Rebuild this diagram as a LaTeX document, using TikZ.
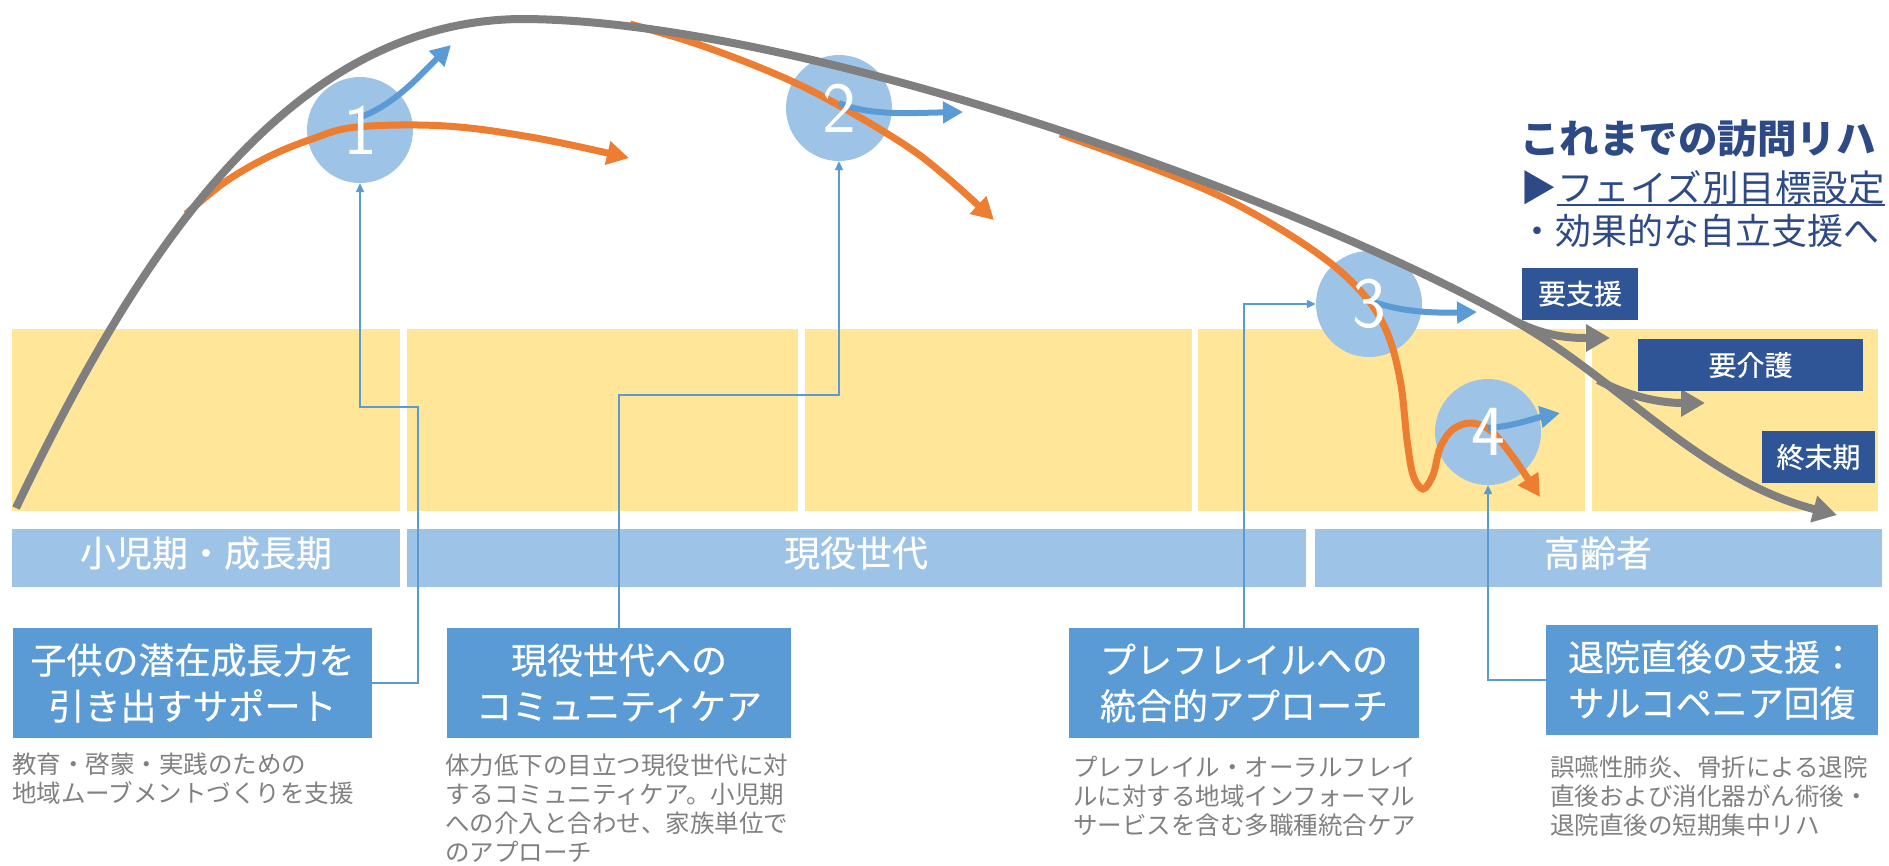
\documentclass[tikz,border=0pt]{standalone}
\usepackage{fontspec}
\setmainfont{Noto Sans CJK JP}
\newfontfamily\boxfont[FakeBold=0.5]{Noto Sans CJK JP}
\usetikzlibrary{arrows.meta}
\definecolor{cgray}{HTML}{7F7F7F}
\definecolor{corange}{HTML}{ED7D31}
\definecolor{cblue}{HTML}{5B9BD5}
\definecolor{clblue}{HTML}{9DC3E6}
\definecolor{cyellow}{HTML}{FFE699}
\definecolor{cnavy}{HTML}{2F5597}
\definecolor{ctext}{HTML}{2E4A86}
\definecolor{cdesc}{HTML}{808080}
\begin{document}
\begin{tikzpicture}[x=1pt,y=-1pt,
  bandseg/.style={fill=clblue, draw=none, inner sep=0, minimum height=58pt},
  bandlabel/.style={text=white, inner sep=0, font=\boxfont\fontsize{36}{36}\selectfont},
  circ/.style={circle, fill=clblue, minimum size=106pt, inner sep=0},
  num/.style={text=white, font=\sffamily\fontsize{72}{72}\selectfont, inner sep=0},
  bbox/.style={fill=cblue, text=white, inner sep=0, align=center, minimum height=110pt, font=\boxfont\fontsize{36}{46}\selectfont},
  nbox/.style={fill=cnavy, text=white, inner sep=0, minimum height=52pt, font=\boxfont\fontsize{28}{28}\selectfont},
  desc/.style={text=cdesc, inner sep=0, align=left, anchor=west, font=\fontsize{24.5}{29}\selectfont},
  link/.style={draw=cblue, line width=2pt, -{Triangle[length=9pt,width=8pt]}},
  graycurve/.style={draw=cgray, line width=8pt, -{Triangle[length=24pt,width=26pt]}},
  orangecurve/.style={draw=corange, line width=7pt, -{Triangle[length=22pt,width=23pt]}},
  bluecurve/.style={draw=cblue, line width=6pt, -{Triangle[length=20pt,width=21pt]}},
  ttl/.style={text=ctext, inner sep=0, anchor=west}
]
\useasboundingbox (0,0) rectangle (1889,865);

% yellow band columns
\fill[cyellow] (12,329) rectangle (400,511);
\fill[cyellow] (407,329) rectangle (798,511);
\fill[cyellow] (805,329) rectangle (1192,511);
\fill[cyellow] (1198,329) rectangle (1585,511);
\fill[cyellow] (1592,329) rectangle (1878,511);

% blue age band
\node[bandseg, minimum width=388pt] (b1) at (206,558) {};
\node[bandseg, minimum width=899pt] (b2) at (856.5,558) {};
\node[bandseg, minimum width=567pt] (b3) at (1598.5,558) {};
\node[bandlabel] (l1) at (206,553) {小児期・成長期};
\node[bandlabel] (l2) at (856,553) {現役世代};
\node[bandlabel] (l3) at (1598,553) {高齢者};

% circles
\node[circ] (c1) at (360,130) {};
\node[circ] (c2) at (839,108) {};
\node[circ] (c3) at (1369,304) {};
\node[circ] (c4) at (1488,432) {};

% bottom boxes
\node[bbox, minimum width=359pt] (k1) at (192.5,683) {子供の潜在成長力を\\引き出すサポート};
\node[bbox, minimum width=344pt] (k2) at (619,683) {現役世代への\\コミュニティケア};
\node[bbox, minimum width=350pt] (k3) at (1244,683) {プレフレイルへの\\統合的アプローチ};
\node[bbox, minimum width=332pt] (k4) at (1712,680) {退院直後の支援：\\サルコペニア回復};

% connectors
\draw[link] (k1.east) -| (418,407) -| (c1.south);
\draw[link] (k2.north) -- (k2.north |- 0,395) -| (c2.south);
\draw[link] (k3.north) |- (c3.west);
\draw[link] (k4.west) -| (c4.south);

% descriptions
\node[desc] (d1) at (12,779) {教育・啓蒙・実践のための\\地域ムーブメントづくりを支援};
\node[desc] (d2) at (445,808) {体力低下の目立つ現役世代に対\\するコミュニティケア。小児期\\への介入と合わせ、家族単位で\\のアプローチ};
\node[desc] (d3) at (1073,796) {プレフレイル・オーラルフレイ\\ルに対する地域インフォーマル\\サービスを含む多職種統合ケア};
\node[desc] (d4) at (1550,796) {誤嚥性肺炎、骨折による退院\\直後および消化器がん術後・\\退院直後の短期集中リハ};

% orange curves
\draw[orangecurve] plot[smooth, tension=0.6] coordinates {(186,214) (225,182) (268,157) (312,139) (357,127) (446,126) (536,138) (629,158)};
\draw[orangecurve] plot[smooth, tension=0.6] coordinates {(630,24) (700,45) (780,76) (840,106) (908,147) (950,180) (994,220)};
\draw[orangecurve] plot[smooth, tension=0.55] coordinates {(1060,134) (1150,167) (1224,198) (1290,235) (1339,270) (1372,305) (1390,340) (1401,385) (1407,440) (1413,475) (1423,489) (1433,475) (1440,448) (1452,430) (1470,423) (1490,430) (1513,457) (1540,497)};

% gray curves
\draw[graycurve] (16,508) .. controls (130,270) and (280,22) .. (520,19)
  .. controls (800,19) and (1300,200) .. (1513,320)
  .. controls (1620,380) and (1700,480) .. (1837,515);
\draw[graycurve] (1515,321) .. controls (1548,338) and (1575,338) .. (1610,338);
\draw[graycurve] (1598,380) .. controls (1635,400) and (1668,403) .. (1705,403);

% blue arrows
\draw[bluecurve] (358,118) .. controls (395,105) and (420,75) .. (451,45);
\draw[bluecurve] (839,103) .. controls (870,116) and (910,113) .. (963,112);
\draw[bluecurve] (1369,300) .. controls (1400,313) and (1440,313) .. (1477,312);
\draw[bluecurve] (1488,428) .. controls (1515,426) and (1535,418) .. (1560,413);

% numbers
\node[num] (n1) at (c1) {1};
\node[num] (n2) at (c2) {2};
\node[num] (n3) at (c3) {3};
\node[num] (n4) at (c4) {4};

% care level boxes
\node[nbox, minimum width=116pt] (s1) at (1580,293.5) {要支援};
\node[nbox, minimum width=225pt] (s2) at (1750.5,365) {要介護};
\node[nbox, minimum width=113pt] (s3) at (1818.5,457) {終末期};

% title block
\node[ttl, font=\bfseries\fontsize{39.5}{40}\selectfont] (t1) at (1520,139) {これまでの訪問リハ};
\node[ttl, font=\fontsize{36.5}{37}\selectfont] (t2a) at (1520,188) {▶};
\node[ttl, font=\fontsize{36.5}{37}\selectfont] (t2) at (t2a.east) {フェイズ別目標設定};
\draw[ctext, line width=2pt] (t2.south west) -- (t2.south east);
\node[ttl, font=\fontsize{36}{37}\selectfont] (t3) at (1519,231) {・効果的な自立支援へ};
\end{tikzpicture}
\end{document}
